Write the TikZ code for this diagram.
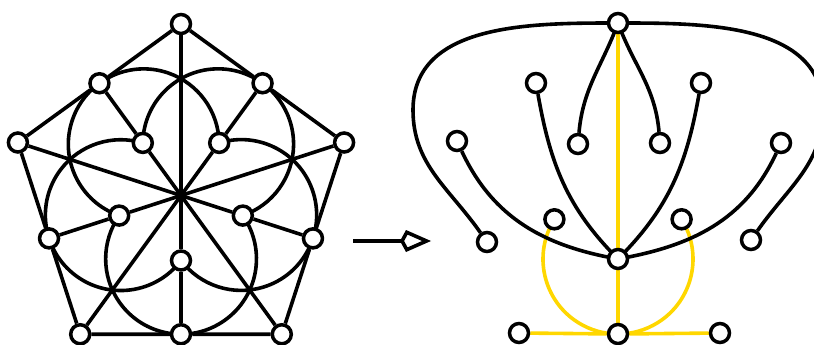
\documentclass[tikz,border=0pt]{standalone}
\usetikzlibrary{arrows.meta}
\definecolor{edgegold}{RGB}{255,215,0}
\pgfdeclarelayer{background}
\pgfsetlayers{background,main}
\begin{document}
\begin{tikzpicture}[x=1pt,y=1pt,
  vtx/.style={circle,draw=black,fill=white,line width=3.5pt,minimum size=19pt,inner sep=0pt},
  edge/.style={draw=black,line width=3.6pt},
  gold/.style={draw=edgegold,line width=3.6pt}]
\useasboundingbox (0,0) rectangle (814,-345);
\clip (0,0) rectangle (814,-345);
% ---------------- left graph ----------------
\coordinate (O) at (181,-195.5);
\begin{scope}[shift={(O)}]
  \foreach \a/\n in {90/V0,162/V1,234/V2,306/V3,18/V4}
    \node[vtx] (\n) at (\a:171.5) {};
  \foreach \a in {126,198,270,342,54} {
    \node[vtx] (M\a) at (\a:138.75) {};
    \node[vtx] (I\a) at (\a:65) {};
  }
\end{scope}
\begin{pgfonlayer}{background}
  \draw[edge] (V0)--(M126)--(V1)--(M198)--(V2)--(M270)--(V3)--(M342)--(V4)--(M54)--(V0);
  \foreach \n in {V0,V1,V2,V3,V4}
    \draw[edge] (O) -- (\n);
  \foreach \a in {126,198,270,342,54}
    \draw[edge] (O) -- (I\a) -- (M\a);
  \foreach \m/\s in {126/198,198/270,270/342,342/54,54/126}
    \draw[edge] (I\s.center) arc[start angle=\m+125, end angle=\m-125, radius=75.4pt];
\end{pgfonlayer}
% ---------------- arrow ----------------
\coordinate (arrA) at (353,-241);
\coordinate (arrB) at (431,-241);
\draw[line width=3.6pt,-{Kite[open,length=31pt,width=22pt,inset=6pt]}] (arrA) -- (arrB);
% ---------------- right graph ----------------
\node[vtx] (T)  at (618,-23) {};
\node[vtx] (a1) at (536,-83) {};
\node[vtx] (a2) at (701,-83) {};
\node[vtx] (b1) at (457,-141) {};
\node[vtx] (b2) at (578,-144) {};
\node[vtx] (b3) at (660,-143) {};
\node[vtx] (b4) at (781,-143) {};
\node[vtx] (c1) at (554.4,-219.3) {};
\node[vtx] (c2) at (681.6,-219.3) {};
\node[vtx] (d1) at (487,-242) {};
\node[vtx] (d2) at (751,-240) {};
\node[vtx] (C)  at (618,-259) {};
\node[vtx] (e1) at (519,-333) {};
\node[vtx] (e2) at (618,-334) {};
\node[vtx] (e3) at (720,-333) {};
\coordinate (Lx) at (413,-110);
\coordinate (Rx) at (823,-110);
\begin{pgfonlayer}{background}
  \draw[gold] (T) -- (C);
  \draw[gold] (C) -- (e2);
  \draw[gold] (e1) -- (e2) -- (e3);
  \draw[gold] (c1.center) arc[start angle=148, end angle=270, radius=75pt];
  \draw[gold] (c2.center) arc[start angle=32, end angle=-90, radius=75pt];
  \draw[edge] (T.center) to[out=180,in=90] (Lx) to[out=-90,in=125] (d1);
  \draw[edge] (T.center) to[out=0,in=90] (Rx) to[out=-90,in=55] (d2);
  \draw[edge] (b1) to[out=-65,in=170] (C.center);
  \draw[edge] (b4) to[out=-115,in=10] (C.center);
  \draw[edge] (a1) to[out=-80,in=135] (C.center);
  \draw[edge] (a2) to[out=-100,in=45] (C.center);
  \draw[edge] (T.center) to[out=-110,in=85] (b2);
  \draw[edge] (T.center) to[out=-70,in=95] (b3);
\end{pgfonlayer}
\end{tikzpicture}
\end{document}
